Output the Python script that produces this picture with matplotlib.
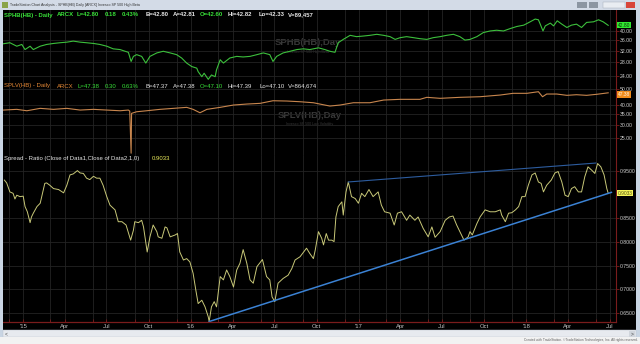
import pandas as pd
import matplotlib
matplotlib.use('Agg')
import matplotlib.pyplot as plt
import matplotlib.dates as mdates
from matplotlib.ticker import FixedLocator, FixedFormatter, FormatStrFormatter, NullLocator
from matplotlib.patches import Rectangle

plt.rcParams['font.family'] = ['Liberation Sans', 'DejaVu Sans']

# --- data --------------------------------------------------------------
sphb_dates = ['2014-11-19', '2014-12-03', '2014-12-18', '2014-12-29', '2015-01-05', '2015-01-16',
              '2015-01-23', '2015-02-07', '2015-02-21', '2015-03-08', '2015-03-22', '2015-04-06',
              '2015-04-20', '2015-05-05', '2015-05-19', '2015-06-03', '2015-06-17', '2015-07-02',
              '2015-07-16', '2015-07-31', '2015-08-11', '2015-08-18', '2015-08-24', '2015-08-29',
              '2015-09-05', '2015-09-16', '2015-09-25', '2015-10-04', '2015-10-19', '2015-11-02',
              '2015-11-17', '2015-12-01', '2015-12-12', '2015-12-23', '2016-01-03', '2016-01-14',
              '2016-01-17', '2016-01-25', '2016-01-30', '2016-02-08', '2016-02-15', '2016-02-23',
              '2016-02-26', '2016-03-05', '2016-03-12', '2016-03-26', '2016-04-10', '2016-04-24',
              '2016-05-09', '2016-05-24', '2016-06-07', '2016-06-21', '2016-06-28', '2016-07-06',
              '2016-07-20', '2016-08-04', '2016-08-19', '2016-09-02', '2016-09-16', '2016-10-05',
              '2016-10-19', '2016-10-30', '2016-11-10', '2016-11-17', '2016-11-28', '2016-12-13',
              '2016-12-27', '2017-01-11', '2017-01-25', '2017-02-09', '2017-02-24', '2017-03-10',
              '2017-03-21', '2017-04-01', '2017-04-15', '2017-04-30', '2017-05-14', '2017-05-29',
              '2017-06-12', '2017-06-27', '2017-07-11', '2017-07-26', '2017-08-09', '2017-08-20',
              '2017-08-31', '2017-09-15', '2017-09-29', '2017-10-14', '2017-10-28', '2017-11-12',
              '2017-11-27', '2017-12-11', '2017-12-26', '2018-01-09', '2018-01-20', '2018-01-27',
              '2018-01-31', '2018-02-06', '2018-02-11', '2018-02-22', '2018-03-01', '2018-03-09',
              '2018-03-19', '2018-03-30', '2018-04-09', '2018-04-20', '2018-05-01', '2018-05-12',
              '2018-05-27', '2018-06-07', '2018-06-17', '2018-06-28']
sphb_close = [34.68, 35.08, 33.72, 34.40, 32.45, 33.72,
              32.45, 33.72, 34.40, 34.80, 35.08, 35.32,
              35.74, 35.32, 35.08, 34.80, 34.40, 33.72,
              32.72, 32.45, 31.82, 31.45, 28.33, 30.02,
              30.62, 30.02, 27.81, 30.02, 31.23, 31.82,
              31.23, 30.62, 29.47, 27.81, 26.73, 26.24,
              25.22, 23.80, 24.76, 23.09, 24.28, 23.80,
              25.73, 28.89, 27.81, 29.47, 30.02, 29.82,
              30.02, 30.62, 31.23, 30.62, 28.33, 30.02,
              31.23, 31.82, 32.45, 32.72, 32.45, 33.10,
              32.45, 31.82, 31.45, 35.08, 36.45, 38.18,
              37.61, 37.88, 38.18, 38.63, 38.18, 37.61,
              36.45, 37.18, 37.61, 37.18, 36.75, 36.45,
              37.18, 37.61, 38.18, 38.63, 37.61, 36.16,
              36.45, 37.61, 39.40, 40.14, 40.47, 40.14,
              41.28, 42.24, 42.89, 44.56, 45.98, 45.61,
              43.39, 40.14, 42.54, 43.90, 42.54, 45.08,
              43.39, 41.76, 42.89, 43.39, 41.76, 44.25,
              44.56, 45.61, 44.56, 42.80]

splv_dates = ['2014-11-19', '2014-12-18', '2015-01-09', '2015-02-07', '2015-03-08', '2015-04-06',
              '2015-05-05', '2015-06-03', '2015-07-02', '2015-07-31', '2015-08-18', '2015-08-21',
              '2015-08-24', '2015-08-25', '2015-09-05', '2015-09-27', '2015-10-26', '2015-11-24',
              '2015-12-23', '2016-01-06', '2016-01-21', '2016-02-05', '2016-03-05', '2016-04-03',
              '2016-05-02', '2016-05-31', '2016-06-28', '2016-07-28', '2016-08-26', '2016-09-24',
              '2016-10-08', '2016-10-30', '2016-11-21', '2016-12-20', '2017-01-25', '2017-02-24',
              '2017-04-01', '2017-05-14', '2017-05-29', '2017-06-27', '2017-08-09', '2017-09-22',
              '2017-11-05', '2017-12-03', '2018-01-02', '2018-01-27', '2018-02-05', '2018-02-14',
              '2018-03-08', '2018-03-30', '2018-04-20', '2018-05-12', '2018-06-03', '2018-06-28']
splv_close = [37.15, 37.52, 36.79, 38.05, 37.52, 38.05,
              37.15, 37.52, 37.15, 36.79, 37.15, 36.60,
              20.20, 35.46, 36.27, 36.79, 37.52, 38.05,
              38.60, 37.52, 35.76, 37.52, 38.60, 39.88,
              40.44, 40.84, 42.37, 42.20, 41.78, 41.19,
              40.44, 39.31, 39.88, 41.19, 41.19, 42.79,
              43.22, 43.22, 44.46, 43.84, 44.46, 44.84,
              45.93, 47.05, 47.05, 48.13, 44.84, 46.58,
              46.58, 45.73, 46.13, 45.73, 46.40, 47.38]

ratio_dates = ['2014-11-21', '2014-11-26', '2014-12-03', '2014-12-10', '2014-12-14', '2014-12-18',
               '2014-12-25', '2015-01-01', '2015-01-05', '2015-01-10', '2015-01-16', '2015-01-19',
               '2015-01-23', '2015-01-27', '2015-01-31', '2015-02-07', '2015-02-12', '2015-02-17',
               '2015-02-21', '2015-02-28', '2015-03-08', '2015-03-19', '2015-03-30', '2015-04-06',
               '2015-04-13', '2015-04-20', '2015-04-29', '2015-05-05', '2015-05-12', '2015-05-19',
               '2015-05-26', '2015-06-03', '2015-06-10', '2015-06-17', '2015-06-24', '2015-07-02',
               '2015-07-09', '2015-07-20', '2015-07-27', '2015-08-04', '2015-08-13', '2015-08-23',
               '2015-08-29', '2015-09-01', '2015-09-09', '2015-09-16', '2015-09-20', '2015-09-28',
               '2015-10-04', '2015-10-11', '2015-10-19', '2015-10-22', '2015-10-30', '2015-11-06',
               '2015-11-10', '2015-11-17', '2015-11-28', '2015-12-03', '2015-12-08', '2015-12-16',
               '2015-12-23', '2015-12-30', '2016-01-06', '2016-01-12', '2016-01-17', '2016-01-25',
               '2016-02-01', '2016-02-08', '2016-02-10', '2016-02-15', '2016-02-21', '2016-02-26',
               '2016-03-05', '2016-03-12', '2016-03-19', '2016-03-26', '2016-04-03', '2016-04-10',
               '2016-04-17', '2016-04-24', '2016-05-02', '2016-05-09', '2016-05-16', '2016-05-24',
               '2016-06-05', '2016-06-14', '2016-06-21', '2016-06-26', '2016-07-02', '2016-07-09',
               '2016-07-20', '2016-07-31', '2016-08-08', '2016-08-15', '2016-08-26', '2016-09-09',
               '2016-09-16', '2016-09-24', '2016-09-28', '2016-10-05', '2016-10-12', '2016-10-16',
               '2016-10-22', '2016-10-27', '2016-11-03', '2016-11-08', '2016-11-12', '2016-11-17',
               '2016-11-25', '2016-11-28', '2016-12-04', '2016-12-09', '2016-12-16', '2016-12-24',
               '2016-12-31', '2017-01-07', '2017-01-14', '2017-01-23', '2017-02-01', '2017-02-12',
               '2017-02-19', '2017-02-26', '2017-03-10', '2017-03-19', '2017-03-26', '2017-04-04',
               '2017-04-15', '2017-04-22', '2017-05-03', '2017-05-10', '2017-05-21', '2017-06-01',
               '2017-06-09', '2017-06-16', '2017-06-27', '2017-07-08', '2017-07-17', '2017-07-25',
               '2017-08-02', '2017-08-09', '2017-08-18', '2017-08-27', '2017-08-31', '2017-09-05',
               '2017-09-15', '2017-09-22', '2017-10-03', '2017-10-14', '2017-10-25', '2017-11-05',
               '2017-11-08', '2017-11-16', '2017-11-23', '2017-11-30', '2017-12-08', '2017-12-15',
               '2017-12-22', '2017-12-29', '2018-01-05', '2018-01-13', '2018-01-20', '2018-01-27',
               '2018-02-02', '2018-02-07', '2018-02-14', '2018-02-24', '2018-03-04', '2018-03-11',
               '2018-03-19', '2018-03-26', '2018-04-02', '2018-04-09', '2018-04-16', '2018-04-24',
               '2018-05-01', '2018-05-08', '2018-05-15', '2018-05-23', '2018-05-30', '2018-06-05',
               '2018-06-12', '2018-06-19', '2018-06-25', '2018-06-28']
ratio_vals = [0.931, 0.925, 0.906, 0.903, 0.891, 0.899,
              0.896, 0.897, 0.875, 0.864, 0.841, 0.853,
              0.861, 0.868, 0.875, 0.882, 0.903, 0.924,
              0.925, 0.920, 0.913, 0.911, 0.904, 0.920,
              0.942, 0.944, 0.951, 0.946, 0.945, 0.935,
              0.932, 0.939, 0.935, 0.935, 0.920, 0.896,
              0.878, 0.868, 0.843, 0.843, 0.836, 0.804,
              0.825, 0.843, 0.841, 0.846, 0.832, 0.779,
              0.811, 0.836, 0.822, 0.811, 0.808, 0.832,
              0.830, 0.811, 0.815, 0.818, 0.779, 0.762,
              0.765, 0.758, 0.734, 0.698, 0.670, 0.677,
              0.663, 0.642, 0.632, 0.663, 0.674, 0.663,
              0.727, 0.720, 0.741, 0.727, 0.705, 0.741,
              0.755, 0.784, 0.755, 0.720, 0.713, 0.748,
              0.763, 0.727, 0.720, 0.684, 0.674, 0.713,
              0.723, 0.730, 0.744, 0.762, 0.769, 0.787,
              0.776, 0.765, 0.783, 0.822, 0.808, 0.794,
              0.818, 0.804, 0.804, 0.801, 0.853, 0.875,
              0.885, 0.857, 0.906, 0.927, 0.896, 0.892,
              0.882, 0.903, 0.896, 0.911, 0.896, 0.906,
              0.878, 0.864, 0.861, 0.836, 0.861, 0.864,
              0.846, 0.857, 0.846, 0.853, 0.829, 0.811,
              0.832, 0.810, 0.822, 0.846, 0.853, 0.855,
              0.836, 0.822, 0.804, 0.811, 0.822, 0.815,
              0.839, 0.853, 0.868, 0.864, 0.864, 0.868,
              0.857, 0.843, 0.861, 0.862, 0.868, 0.875,
              0.896, 0.896, 0.920, 0.942, 0.946, 0.927,
              0.924, 0.906, 0.920, 0.931, 0.946, 0.949,
              0.927, 0.899, 0.896, 0.913, 0.917, 0.906,
              0.906, 0.938, 0.959, 0.952, 0.945, 0.966,
              0.959, 0.942, 0.913, 0.9033]

upper_trend_dates = ['2016-12-09', '2018-06-01']
upper_trend_vals = [0.927, 0.967]
lower_trend_dates = ['2016-02-10', '2018-07-05']
lower_trend_vals = [0.632, 0.905]

sphb_ticks = [24, 28, 32, 36, 40]
splv_ticks = [25, 30, 35, 40, 50]
ratio_ticks = [0.65, 0.70, 0.75, 0.80, 0.85, 0.95]

month_ticks = ['2015-01-01', '2015-04-01', '2015-07-01', '2015-10-01', '2016-01-01', '2016-04-01',
               '2016-07-01', '2016-10-01', '2017-01-01', '2017-04-01', '2017-07-01', '2017-10-01',
               '2018-01-01', '2018-04-01', '2018-07-01']
month_labels = ["'15", 'Apr', 'Jul', 'Oct', "'16", 'Apr', 'Jul', 'Oct', "'17", 'Apr', 'Jul', 'Oct',
                "'18", 'Apr', 'Jul']
minor_ticks = ['2014-12-01', '2015-03-01', '2015-06-01', '2015-09-01', '2015-12-01', '2016-03-01',
               '2016-06-01', '2016-09-01', '2016-12-01', '2017-03-01', '2017-06-01', '2017-09-01',
               '2017-12-01', '2018-03-01', '2018-06-01']

sphb_header = ['SPHB(HB) - Daily', 'ARCX', 'L=42.80', '0.18', '0.43%', 'B=42.80', 'A=42.81',
               'O=42.60', 'Hi=42.82', 'Lo=42.33', 'V=89,457']
splv_header = ['SPLV(HB) - Daily', 'ARCX', 'L=47.38', '0.30', '0.63%', 'B=47.37', 'A=47.38',
               'O=47.10', 'Hi=47.39', 'Lo=47.10', 'V=864,674']
ratio_header = ['Spread - Ratio (Close of Data1,Close of Data2,1,0)', '0.9033']

# --- colours -------------------------------------------------------------
GREEN = '#3cbf3c'
HGREEN = '#38e038'
ORANGE = '#c8864e'
HORANGE = '#e88a36'
YELLOW = '#c8c878'
WHITE = '#e6e6e6'
DRED = '#7a1c1c'
GRID = '#232323'

W, H = 640, 344
fig = plt.figure(figsize=(W / 100, H / 100), dpi=100)
fig.patch.set_facecolor('black')


def box(x0, y0, x1, y1):
    return [x0 / W, 1 - y1 / H, (x1 - x0) / W, (y1 - y0) / H]


ax1 = fig.add_axes(box(3, 10, 616, 82))
ax2 = fig.add_axes(box(3, 82, 616, 155), sharex=ax1)
ax3 = fig.add_axes(box(3, 155, 616, 322), sharex=ax1)

d_sphb = pd.to_datetime(sphb_dates)
d_splv = pd.to_datetime(splv_dates)
d_ratio = pd.to_datetime(ratio_dates)

ax1.plot(d_sphb, sphb_close, color=GREEN, lw=0.8)
ax2.plot(d_splv, splv_close, color=ORANGE, lw=0.8)
ax3.plot(d_ratio, ratio_vals, color=YELLOW, lw=0.7)
ax3.plot(pd.to_datetime(upper_trend_dates), upper_trend_vals, color='#2d5c9e', lw=0.8)
ax3.plot(pd.to_datetime(lower_trend_dates), lower_trend_vals, color='#3b82d4', lw=1.1)

ax1.set_yscale('log')
ax2.set_yscale('log')
ax1.set_ylim(22.4, 51.0)
ax2.set_ylim(19.7, 55.2)
ax3.set_ylim(0.631, 0.984)
ax1.set_xlim(pd.Timestamp('2014-11-18'), pd.Timestamp('2018-07-15'))

for ax, ticks, fmt in [(ax1, sphb_ticks, '%.2f'), (ax2, splv_ticks, '%.2f'), (ax3, ratio_ticks, '%.4f')]:
    ax.set_facecolor('black')
    for s in ['top', 'left', 'bottom']:
        ax.spines[s].set_visible(False)
    ax.spines['right'].set_color(DRED)
    ax.spines['right'].set_linewidth(0.8)
    ax.yaxis.tick_right()
    ax.yaxis.set_major_locator(FixedLocator(ticks))
    ax.yaxis.set_minor_locator(NullLocator())
    ax.yaxis.set_major_formatter(FormatStrFormatter(fmt))
    ax.tick_params(axis='y', colors=DRED, labelcolor='#d2d2d2', labelsize=3.7, length=2, width=0.6, pad=1)
    ax.xaxis.set_major_locator(FixedLocator(mdates.date2num(pd.to_datetime(month_ticks))))
    ax.xaxis.set_minor_locator(FixedLocator(mdates.date2num(pd.to_datetime(minor_ticks))))
    ax.grid(True, which='both', color=GRID, lw=0.6)
    ax.set_axisbelow(True)

for ax in (ax1, ax2):
    ax.tick_params(axis='x', which='both', length=0, labelbottom=False)

ax3.spines['bottom'].set_visible(True)
ax3.spines['bottom'].set_color(DRED)
ax3.spines['bottom'].set_linewidth(0.9)
ax3.xaxis.set_major_formatter(FixedFormatter(month_labels))
ax3.tick_params(axis='x', which='both', colors=DRED, labelcolor='#c4c4c4', labelsize=4.2,
                direction='in', length=2, width=0.6, pad=1.5)

# last value tags on the price scale
for ax, val, txt, fc, tc, dy in [(ax1, sphb_close[-1], '%.2f' % sphb_close[-1], '#30e830', '#0a300a', 0),
                                 (ax2, splv_close[-1], '%.2f' % splv_close[-1], '#f08c1c', '#fff2e0', -1.2),
                                 (ax3, ratio_vals[-1], '%.4f' % ratio_vals[-1], '#f4f45a', '#505010', 0)]:
    ax.annotate(txt, xy=(1.003, val), xycoords=ax.get_yaxis_transform(),
                xytext=(0, dy), textcoords='offset points', fontsize=3.5, color=tc,
                va='center', ha='left', annotation_clip=False, zorder=5,
                bbox=dict(boxstyle='square,pad=0.12', fc=fc, ec='none'))

# symbol watermarks
ax1.text(0.498, 0.55, 'SPHB(HB),Day', transform=ax1.transAxes, ha='center', va='center',
         fontsize=6.8, fontweight='bold', color='#383838', zorder=0)
ax1.text(0.498, 0.415, 'Invesco SP 500 High Beta', transform=ax1.transAxes, ha='center', va='center',
         fontsize=2.6, color='#383838', zorder=0)
ax2.text(0.5, 0.535, 'SPLV(HB),Day', transform=ax2.transAxes, ha='center', va='center',
         fontsize=6.8, fontweight='bold', color='#383838', zorder=0)
ax2.text(0.5, 0.425, 'Invesco SP 500 Low Volatility', transform=ax2.transAxes, ha='center', va='center',
         fontsize=2.6, color='#383838', zorder=0)

# window chrome, headers
bg = fig.add_axes([0, 0, 1, 1], zorder=10)
bg.set_xlim(0, W)
bg.set_ylim(H, 0)
bg.axis('off')
bg.patch.set_alpha(0)

bg.add_patch(Rectangle((0, 0), W, 9.5, fc='#d3dbe7', ec='none'))
bg.add_patch(Rectangle((0, 9.5), 3, 328, fc='#c9d5e3', ec='none'))
bg.add_patch(Rectangle((636, 9.5), 4, 328, fc='#c9d5e3', ec='none'))
bg.add_patch(Rectangle((1.5, 1.5), 6, 6, fc='#8aa44a', ec='none'))
bg.text(10, 5, 'TradeStation Chart Analysis - SPHB(HB) Daily [ARCX] Invesco SP 500 High Beta',
        fontsize=2.6, color='#303030', va='center', ha='left')
bg.add_patch(Rectangle((577, 2), 10, 6, fc='#8c96a2', ec='none'))
bg.add_patch(Rectangle((589, 2), 9, 6, fc='#8c96a2', ec='none'))
bg.add_patch(Rectangle((603, 2), 22, 6, fc='#e9edf2', ec='#a0a8b4', lw=0.3))
bg.add_patch(Rectangle((626, 2), 9, 6, fc='#d8463a', ec='none'))

bg.add_patch(Rectangle((3, 330), 633, 7, fc='#e7eaef', ec='#b8c0cc', lw=0.3))
bg.add_patch(Rectangle((629, 330.5), 6, 6, fc='#d0d5dc', ec='none'))
bg.text(5, 333.5, '<', fontsize=3.5, color='#404040', va='center', ha='left')
bg.text(634, 333.5, '>', fontsize=3.5, color='#404040', va='center', ha='right')
bg.add_patch(Rectangle((0, 337), W, 7, fc='#f2f2f2', ec='none'))
bg.text(638, 340.5, 'Created with TradeStation. \u00a9TradeStation Technologies, Inc. All rights reserved.',
        fontsize=2.3, color='#606060', va='center', ha='right')

hx = [4, 57, 77, 105, 122, 146, 173, 200, 228, 259, 288]
c1 = [HGREEN, HGREEN, HGREEN, HGREEN, HGREEN, WHITE, WHITE, HGREEN, WHITE, WHITE, WHITE]
c2 = [HORANGE, HORANGE, HGREEN, HGREEN, HGREEN, WHITE, WHITE, HGREEN, WHITE, WHITE, WHITE]
for x, s, c in zip(hx, sphb_header, c1):
    bg.text(x, 15, s, fontsize=4.3, fontweight='bold', color=c, va='center', ha='left')
for x, s, c in zip(hx, splv_header, c2):
    bg.text(x, 86, s, fontsize=4.3, color=c, va='center', ha='left')
bg.text(4, 158.5, ratio_header[0], fontsize=4.3, color=WHITE, va='center', ha='left')
bg.text(152, 158.5, ratio_header[1], fontsize=4.3, color='#e8e85a', va='center', ha='left')

fig.savefig('out.png', dpi=100, facecolor=fig.get_facecolor())
